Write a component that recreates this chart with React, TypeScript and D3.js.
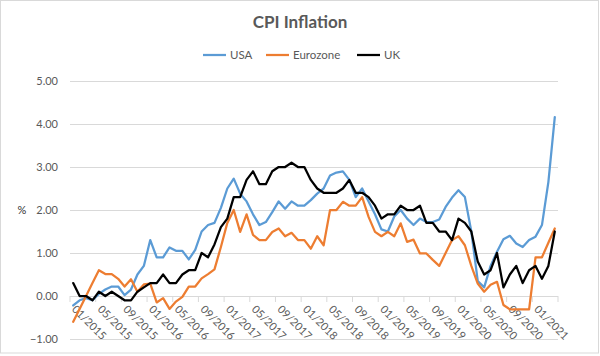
import React from "react";
import * as d3 from "d3";

const title = "CPI Inflation";
const seriesNames = ["USA", "Eurozone", "UK"];
const seriesColors = ["#5B9BD5", "#ED7D31", "#000000"];

const usa = [
  -0.22, -0.1, -0.05, -0.1, 0.05, 0.15, 0.22, 0.22, 0.02, 0.15, 0.5, 0.7,
  1.3, 0.9, 0.9, 1.13, 1.05, 1.05, 0.85, 1.07, 1.5, 1.65, 1.7, 2.05,
  2.5, 2.73, 2.38, 2.2, 1.9, 1.65, 1.72, 1.95, 2.2, 2.03, 2.2, 2.1,
  2.1, 2.23, 2.38, 2.5, 2.8, 2.87, 2.9, 2.7, 2.3, 2.5, 2.2, 1.9,
  1.55, 1.5, 1.85, 2.0, 1.8, 1.65, 1.8, 1.72, 1.72, 1.78, 2.07, 2.29,
  2.46, 2.3, 1.5, 0.35, 0.2, 0.7, 1.03, 1.32, 1.4, 1.22, 1.14, 1.3,
  1.38, 1.65, 2.65, 4.16,
];
const eurozone = [
  -0.6, -0.3, 0.0, 0.3, 0.6, 0.51, 0.51, 0.4, 0.22, 0.39, 0.1, 0.27,
  0.29, -0.15, -0.05, -0.3, -0.13, -0.02, 0.22, 0.22, 0.41, 0.51, 0.62, 1.14,
  1.7, 2.0, 1.49, 1.9, 1.42, 1.3, 1.3, 1.49, 1.57, 1.39, 1.47, 1.3,
  1.3, 1.1, 1.39, 1.18, 2.0, 2.0, 2.19, 2.1, 2.1, 2.3, 1.84, 1.49,
  1.39, 1.49, 1.39, 1.69, 1.26, 1.31, 0.99, 0.99, 0.84, 0.7, 1.0, 1.3,
  1.39, 1.18, 0.7, 0.29, 0.1, 0.26, 0.33, -0.21, -0.31, -0.31, -0.31, -0.31,
  0.9, 0.9, 1.24, 1.57,
];
const uk = [
  0.3, 0.0, 0.0, -0.1, 0.1, 0.0, 0.1, 0.0, -0.1, -0.1, 0.1, 0.2,
  0.3, 0.3, 0.5, 0.3, 0.3, 0.5, 0.6, 0.6, 1.0, 0.9, 1.2, 1.6,
  1.8, 2.3, 2.3, 2.7, 2.9, 2.6, 2.6, 2.9, 3.0, 3.0, 3.1, 3.0,
  3.0, 2.7, 2.5, 2.4, 2.4, 2.4, 2.5, 2.7, 2.4, 2.4, 2.3, 2.1,
  1.8, 1.9, 1.9, 2.1, 2.0, 2.0, 2.1, 1.7, 1.7, 1.5, 1.5, 1.3,
  1.8, 1.7, 1.5, 0.8, 0.5, 0.6, 1.0, 0.2, 0.5, 0.7, 0.3, 0.6,
  0.7, 0.4, 0.7, 1.5,
];
const yTicks = [-1, 0, 1, 2, 3, 4, 5];
const tickLabels = [
  "01/2015", "05/2015", "09/2015", "01/2016", "05/2016", "09/2016",
  "01/2017", "05/2017", "09/2017", "01/2018", "05/2018", "09/2018",
  "01/2019", "05/2019", "09/2019", "01/2020", "05/2020", "09/2020", "01/2021",
];

const fmt = d3.timeFormat("%m/%Y");
const categories = d3.timeMonth
  .range(new Date(2015, 0, 1), new Date(2021, 4, 1))
  .map((d) => fmt(d));

const W = 600;
const H = 356;
const FONT = "Lato, 'Open Sans', sans-serif";
const TXT = "#595959";
const GRID = "#d9d9d9";

export default function App() {
  const x = d3.scaleBand<string>().domain(categories).range([70, 558]);
  const y = d3.scaleLinear().domain([-1, 5]).range([339, 81]);
  const cx = (c: string) => (x(c) as number) + x.bandwidth() / 2;
  const allSeries = [usa, eurozone, uk];
  const line = d3
    .line<number>()
    .x((_, i) => cx(categories[i]))
    .y((v) => y(v));
  const boundaries = d3.range(0, categories.length + 1, 4).map((i) => 70 + i * x.step());

  const legendX = [203, 266, 357];

  return (
    <svg
      width={W}
      height={H}
      style={{ position: "absolute", left: 0, top: 0, background: "#fff" }}
      fontFamily={FONT}
    >
      <rect x={0.5} y={0.5} width={598} height={352.5} fill="#fff" stroke={GRID} />
      <text x={300} y={28} textAnchor="middle" fontSize={17} fontWeight="bold" fill={TXT}>
        {title}
      </text>
      {seriesNames.map((n, i) => (
        <g key={n}>
          <line x1={legendX[i]} x2={legendX[i] + 23} y1={55} y2={55} stroke={seriesColors[i]} strokeWidth={2.25} />
          <text x={legendX[i] + 27} y={59} fontSize={11.5} fill={TXT}>
            {n}
          </text>
        </g>
      ))}
      {yTicks.map((t) => (
        <g key={t}>
          <line x1={70} x2={558} y1={Math.round(y(t)) + 0.5} y2={Math.round(y(t)) + 0.5} stroke={GRID} strokeWidth={1} />
          <text x={58} y={y(t) + 4} textAnchor="end" fontSize={11} fill={TXT}>
            {d3.format(".2f")(t)}
          </text>
        </g>
      ))}
      <text x={22} y={y(2) + 4} textAnchor="middle" fontSize={11} fill="#333">
        %
      </text>
      {boundaries.map((bx, i) => (
        <line key={i} x1={bx} x2={bx} y1={y(0)} y2={y(0) + 6} stroke={GRID} />
      ))}
      {tickLabels.map((l) => (
        <text
          key={l}
          transform={`translate(${cx(l) - 2},${y(0) + 14}) rotate(45)`}
          fontSize={11}
          fill={TXT}
        >
          {l}
        </text>
      ))}
      {allSeries.map((s, i) => (
        <path
          key={i}
          d={line(s) || ""}
          fill="none"
          stroke={seriesColors[i]}
          strokeWidth={2.25}
          strokeLinejoin="round"
          strokeLinecap="round"
        />
      ))}
    </svg>
  );
}
